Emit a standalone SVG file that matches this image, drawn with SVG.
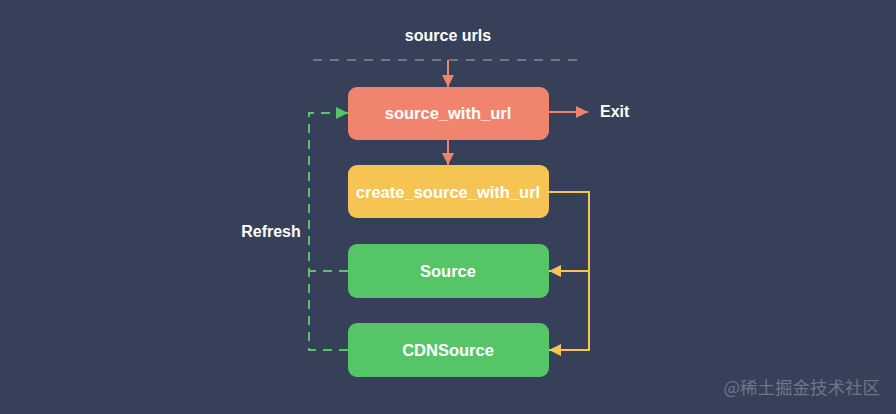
<svg xmlns="http://www.w3.org/2000/svg" width="896" height="414" viewBox="0 0 896 414">
<defs>
<style>
.t{font-family:"Liberation Sans",Arial,sans-serif;font-weight:bold;fill:#ffffff;font-size:16px;text-anchor:middle;dominant-baseline:central}
.n{font-size:16.5px}
.lbl{text-anchor:start}
.red{stroke:#f1846f;stroke-width:2;fill:none}
.yel{stroke:#f6c453;stroke-width:2;fill:none}
.grn{stroke:#55c567;stroke-width:2;fill:none;stroke-dasharray:9 7}
</style>
<marker id="ar" viewBox="0 0 12 12" refX="12" refY="6" markerWidth="12" markerHeight="12" markerUnits="userSpaceOnUse" orient="auto"><path d="M0,0 L12,6 L0,12 Z" fill="#f1846f"/></marker>
<marker id="ay" viewBox="0 0 12 12" refX="12" refY="6" markerWidth="12" markerHeight="12" markerUnits="userSpaceOnUse" orient="auto"><path d="M0,0 L12,6 L0,12 Z" fill="#f6c453"/></marker>
<marker id="ag" viewBox="0 0 12 12" refX="12" refY="6" markerWidth="12" markerHeight="12" markerUnits="userSpaceOnUse" orient="auto"><path d="M0,0 L12,6 L0,12 Z" fill="#55c567"/></marker>
</defs>
<rect width="896" height="414" fill="#374059"/>
<text class="t" x="448" y="35" font-size="15.5">source urls</text>
<line x1="313" y1="60" x2="585" y2="60" stroke="#707785" stroke-width="2" stroke-dasharray="9 8"/>
<text class="t lbl" x="600" y="111">Exit</text>
<text class="t" x="271" y="231">Refresh</text>
<g id="connectors">
<line class="red" x1="448" y1="60" x2="448" y2="87" marker-end="url(#ar)"/>
<line class="red" x1="549" y1="112" x2="588" y2="112" marker-end="url(#ar)"/>
<line class="red" x1="448" y1="140" x2="448" y2="165" marker-end="url(#ar)"/>
<polyline class="yel" points="549,192 589,192 589,350 549,350" marker-end="url(#ay)"/>
<line class="yel" x1="589" y1="271" x2="549" y2="271" marker-end="url(#ay)"/>
<polyline class="grn" points="348,271 309,271"/>
<polyline class="grn" points="348,350 309,350 309,113 336,113"/>
<line x1="336" y1="113" x2="348" y2="113" stroke="#55c567" stroke-width="2" marker-end="url(#ag)"/>
</g>
<g id="source_with_url">
<rect x="348" y="87" width="201" height="53" rx="9" fill="#f1846f"/>
<text class="t n" x="448" y="113">source_with_url</text>
</g>
<g id="create_source_with_url">
<rect x="348" y="165" width="201" height="53" rx="9" fill="#f6c453"/>
<text class="t n" x="448" y="192">create_source_with_url</text>
</g>
<g id="Source">
<rect x="348" y="244" width="201" height="54" rx="9" fill="#55c567"/>
<text class="t n" x="448" y="271">Source</text>
</g>
<g id="CDNSource">
<rect x="348" y="323" width="201" height="54" rx="9" fill="#55c567"/>
<text class="t n" x="448" y="350">CDNSource</text>
</g>
<text x="880" y="394" font-family="'Noto Sans CJK SC',sans-serif" font-size="17.5" fill="#6e7588" text-anchor="end">@稀土掘金技术社区</text>
</svg>
